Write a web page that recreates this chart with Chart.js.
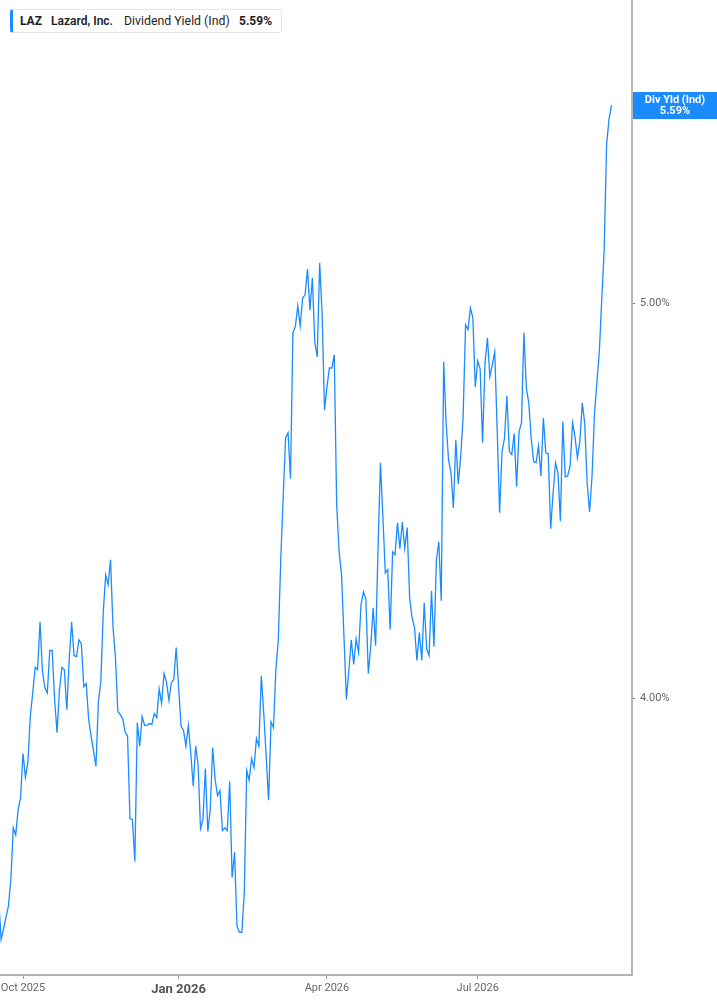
<!DOCTYPE html>
<html>
<head>
<meta charset="utf-8">
<script src="https://cdn.jsdelivr.net/npm/chart.js@4.4.1/dist/chart.umd.min.js"></script>
<style>
  html, body { margin: 0; padding: 0; background: #fff; }
  #wrap { position: relative; width: 717px; height: 1005px; }
  #legend { position: absolute; left: 10px; top: 9px; width: 272px; height: 24px; box-sizing: border-box;
    border: 1px solid #e6e6e6; border-left: 3px solid #1a8cff; border-radius: 3px; background: #fff;
    font-family: Roboto, "Noto Sans", sans-serif; font-size: 12px; color: #1e1e1e; white-space: nowrap; }
  #legend span { position: absolute; top: 4px; line-height: 14px; }
</style>
</head>
<body>
<div id="wrap">
  <canvas id="c" width="717" height="1005"></canvas>
  <div id="legend">
    <span style="left:7px;font-weight:700">LAZ</span>
    <span style="left:38px;font-weight:600">Lazard, Inc.</span>
    <span style="left:111px;font-weight:400;font-size:12.3px">Dividend Yield (Ind)</span>
    <span style="left:226px;font-weight:700">5.59%</span>
  </div>
</div>
<script>
// Trading-day index of the first value (0 = first trading day of Oct 2025)
const startIndex = -10;

// Dividend yield (%) per trading day
const yieldValues = [
  3.572, 3.492, 3.512, 3.536, 3.558, 3.612, 3.719, 3.704, 3.757, 3.783,
  3.878, 3.826, 3.858, 3.960, 4.013, 4.071, 4.066, 4.177, 4.061, 4.025,
  4.013, 4.110, 4.110, 3.998, 3.924, 4.020, 4.071, 4.066, 3.975, 4.089,
  4.177, 4.098, 4.096, 4.135, 4.126, 4.027, 4.034, 3.953, 3.916, 3.883,
  3.850, 3.993, 4.038, 4.199, 4.289, 4.265, 4.326, 4.166, 4.096, 3.971,
  3.964, 3.955, 3.926, 3.916, 3.738, 3.736, 3.649, 3.946, 3.894, 3.960,
  3.940, 3.940, 3.944, 3.942, 3.966, 3.957, 4.022, 3.989, 4.057, 4.038,
  3.996, 4.036, 4.043, 4.117, 4.025, 3.938, 3.929, 3.894, 3.940, 3.878,
  3.807, 3.894, 3.854, 3.717, 3.736, 3.845, 3.711, 3.757, 3.891, 3.822,
  3.787, 3.798, 3.713, 3.719, 3.713, 3.817, 3.616, 3.668, 3.518, 3.506,
  3.506, 3.586, 3.841, 3.820, 3.867, 3.847, 3.911, 3.894, 4.052, 3.968,
  3.872, 3.777, 3.948, 3.935, 4.068, 4.135, 4.326, 4.483, 4.634, 4.647,
  4.528, 4.917, 4.934, 4.992, 4.936, 5.014, 5.023, 5.097, 4.980, 5.071,
  4.891, 4.850, 5.114, 4.972, 4.707, 4.769, 4.820, 4.820, 4.856, 4.462,
  4.345, 4.289, 4.142, 3.998, 4.064, 4.135, 4.078, 4.137, 4.105, 4.217,
  4.248, 4.231, 4.057, 4.119, 4.210, 4.121, 4.350, 4.569, 4.432, 4.294,
  4.302, 4.159, 4.345, 4.338, 4.417, 4.353, 4.419, 4.353, 4.405, 4.234,
  4.187, 4.164, 4.087, 4.152, 4.087, 4.222, 4.114, 4.098, 4.251, 4.119,
  4.324, 4.370, 4.227, 4.837, 4.673, 4.577, 4.543, 4.454, 4.629, 4.515,
  4.585, 4.689, 4.939, 4.925, 4.986, 4.958, 4.769, 4.839, 4.818, 4.621,
  4.834, 4.903, 4.796, 4.829, 4.864, 4.655, 4.442, 4.598, 4.632, 4.745,
  4.598, 4.590, 4.645, 4.508, 4.650, 4.673, 4.917, 4.766, 4.726, 4.632,
  4.572, 4.569, 4.613, 4.535, 4.686, 4.595, 4.593, 4.402, 4.492, 4.569,
  4.543, 4.421, 4.676, 4.533, 4.535, 4.561, 4.673, 4.637, 4.582, 4.624,
  4.726, 4.673, 4.518, 4.444, 4.533, 4.694, 4.780, 4.864, 5.008, 5.152,
  5.468, 5.546, 5.59
];

// X-axis ticks (trading-day index of first trading day of each quarter)
const xTickIndex = [0, 64, 125, 187];
const xTickLabels = ['Oct 2025', 'Jan 2026', 'Apr 2026', 'Jul 2026'];
const xTickBold = [false, true, false, false];

// Y-axis (log scale, %) ticks and visible range
const yTicks = [4.0, 5.0];
const yRange = [3.4225, 5.932];

// Series / end-label text
const endLabelTitle = 'Div Yld (Ind)';
const endLabelValue = '5.59%';

const LINE = '#1a8cff';
const FONT = 'Roboto, "Noto Sans", sans-serif';

const points = yieldValues.map((v, i) => ({ x: startIndex + i, y: v }));

const endLabel = {
  id: 'endLabel',
  afterDraw(chart) {
    const { ctx, chartArea, scales } = chart;
    const last = yieldValues[yieldValues.length - 1];
    const y = scales.y.getPixelForValue(last);
    const x0 = chartArea.right + 1;
    const w = chart.width - x0;
    ctx.save();
    ctx.fillStyle = LINE;
    ctx.fillRect(x0, Math.round(y - 13.5), w, 27);
    ctx.fillStyle = '#fff';
    ctx.font = 'bold 11px ' + FONT;
    ctx.textAlign = 'center';
    ctx.textBaseline = 'middle';
    ctx.fillText(endLabelTitle, x0 + w / 2, y - 5.5);
    ctx.fillText(endLabelValue, x0 + w / 2, y + 5.5);
    ctx.restore();
  }
};

new Chart(document.getElementById('c'), {
  type: 'line',
  data: {
    datasets: [{
      data: points,
      borderColor: LINE,
      borderWidth: 1.3,
      pointRadius: 0,
      tension: 0,
      fill: false
    }]
  },
  options: {
    responsive: false,
    animation: false,
    events: [],
    layout: { padding: 0 },
    plugins: { legend: { display: false }, tooltip: { enabled: false } },
    scales: {
      x: {
        type: 'linear',
        min: -9.46,
        max: 250.45,
        afterBuildTicks: (s) => { s.ticks = xTickIndex.map(v => ({ value: v })); },
        afterFit: (s) => { s.height = 30; s.paddingLeft = 0; s.paddingRight = 0; },
        border: { display: true, color: '#b4b4b4', width: 2 },
        grid: { drawOnChartArea: false, drawTicks: true, tickLength: 4, color: '#999' },
        ticks: {
          autoSkip: false,
          maxRotation: 0,
          padding: 3,
          color: (c) => xTickBold[xTickIndex.indexOf(c.tick && c.tick.value)] ? '#555' : '#666',
          font: (c) => xTickBold[xTickIndex.indexOf(c.tick && c.tick.value)]
            ? { family: FONT, size: 13, weight: 'bold' }
            : { family: FONT, size: 11 },
          callback: (v) => xTickLabels[xTickIndex.indexOf(v)]
        }
      },
      y: {
        type: 'logarithmic',
        position: 'right',
        bounds: 'data',
        min: yRange[0],
        max: yRange[1],
        afterBuildTicks: (s) => {
          s.min = yRange[0];
          s.max = yRange[1];
          s.ticks = yTicks.map(v => ({ value: v }));
        },
        afterFit: (s) => { s.width = 85; s.paddingTop = 0; s.paddingBottom = 0; },
        border: { display: true, color: '#b4b4b4', width: 2 },
        grid: { drawOnChartArea: false, drawTicks: true, tickLength: 3, color: '#777' },
        ticks: {
          padding: 5,
          color: '#666',
          font: { family: FONT, size: 11 },
          callback: (v) => Number(v).toFixed(2) + '%'
        }
      }
    }
  },
  plugins: [endLabel]
});
</script>
</body>
</html>
